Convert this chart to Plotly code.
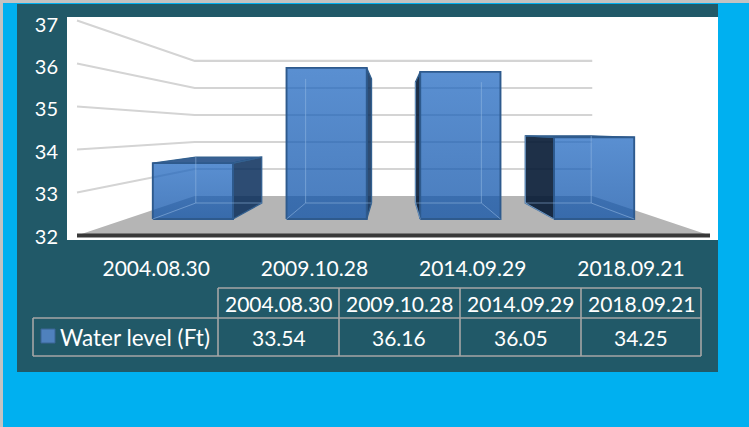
import plotly.graph_objects as go

# ---------------- data ----------------
categories = ["2004.08.30", "2009.10.28", "2014.09.29", "2018.09.21"]
water_level = [33.54, 36.16, 36.05, 34.25]
series_name = "Water level (Ft)"
y_ticks = [32, 33, 34, 35, 36, 37]

# ---------------- geometry / style ----------------
W, H = 749, 427
PX_PER_CAT = 158.25      # front-plane width of one category
X0_PX = 77               # front-plane left edge (px)
V0_PX = 235.5            # front-plane y of value 32 (px)
PX_PER_UNIT = 43.0
VMIN = y_ticks[0]
VMAX = y_ticks[-1]

# main axes: category units (x) and front-plane value units (y)
x_range = [-0.5 - X0_PX / PX_PER_CAT, (W - X0_PX) / PX_PER_CAT - 0.5]
y_range = [VMIN - (H - V0_PX) / PX_PER_UNIT, VMIN + V0_PX / PX_PER_UNIT]
# label axis (slightly different offset as in the reference)
LAB0_PX, LAB_UNIT = 236.5, 42.4
y2_range = [VMIN - (H - LAB0_PX) / LAB_UNIT, VMIN + LAB0_PX / LAB_UNIT]

# perspective: vanishing centre
CX = (len(categories) - 1) / 2.0
CV = VMIN + (V0_PX - 129.3) / PX_PER_UNIT
S_FRONT, S_BACK = 1.0, 0.628          # floor / walls depth scales
BAR_SF, BAR_SB = 0.845, 0.694          # bar front / back depth scales
HALF = 0.30                            # bar half width (category units)


def P(x, v, s):
    return CX + s * (x - CX), CV + s * (v - CV)


def poly(pts):
    xs = [p[0] for p in pts] + [pts[0][0]]
    ys = [p[1] for p in pts] + [pts[0][1]]
    return xs, ys


def px(x):
    return x / W


def py(y):
    return 1 - y / H


fig = go.Figure()

# invisible trace for label axis
fig.add_trace(go.Scatter(x=[0], y=[VMIN], yaxis="y2", mode="markers",
                         marker=dict(opacity=0), showlegend=False, hoverinfo="skip"))

xl, xr = -0.5, len(categories) - 0.5

# floor
fx, fy = poly([P(xl, VMIN, S_FRONT), P(xr, VMIN, S_FRONT), P(xr, VMIN, S_BACK), P(xl, VMIN, S_BACK)])
fig.add_trace(go.Scatter(x=fx, y=fy, mode="lines", fill="toself", fillcolor="#B5B5B5",
                         line=dict(width=0), showlegend=False, hoverinfo="skip"))

# gridlines on left wall and back wall
for v in y_ticks[1:]:
    pts = [P(xl, v, S_FRONT), P(xl, v, S_BACK), P(xr, v, S_BACK)]
    fig.add_trace(go.Scatter(x=[p[0] for p in pts], y=[p[1] for p in pts], mode="lines",
                             line=dict(color="#D4D4D4", width=2.2), showlegend=False, hoverinfo="skip"))

# floor front edge
ex, ey = zip(P(xl, VMIN, S_FRONT), P(xr, VMIN, S_FRONT))
fig.add_trace(go.Scatter(x=list(ex), y=list(ey), mode="lines",
                         line=dict(color="#383838", width=4), showlegend=False, hoverinfo="skip"))

EDGE = "#33608F"


def face(pts, color, lw=1.3, lc=EDGE, grad=None):
    xs, ys = poly(pts)
    kw = dict(x=xs, y=ys, mode="lines", fill="toself", line=dict(color=lc, width=lw),
              showlegend=False, hoverinfo="skip")
    if grad:
        kw["fillgradient"] = dict(type="vertical", colorscale=grad)
    else:
        kw["fillcolor"] = color
    fig.add_trace(go.Scatter(**kw))


def seg(a, b, color, w=1.0):
    fig.add_trace(go.Scatter(x=[a[0], b[0]], y=[a[1], b[1]], mode="lines",
                             line=dict(color=color, width=w), showlegend=False, hoverinfo="skip"))


for i, v in enumerate(water_level):
    x0, x1 = i - HALF, i + HALF
    # corners
    fbl, fbr, ftl, ftr = P(x0, VMIN, BAR_SF), P(x1, VMIN, BAR_SF), P(x0, v, BAR_SF), P(x1, v, BAR_SF)
    bbl, bbr, btl, btr = P(x0, VMIN, BAR_SB), P(x1, VMIN, BAR_SB), P(x0, v, BAR_SB), P(x1, v, BAR_SB)
    # visible side faces
    if x1 < CX:
        face([fbr, bbr, btr, ftr], "rgba(8,45,91,0.85)")
    if x0 > CX:
        face([fbl, bbl, btl, ftl], "rgba(6,26,52,0.9)")
    # top face if below eye level
    if v < CV:
        face([ftl, ftr, btr, btl], "rgba(22,68,128,0.85)")
    # front face (semi-transparent, gradient)
    face([fbl, fbr, ftr, ftl], None, lw=1.9, lc="#2E5A8D",
         grad=[[0, "rgba(14,82,168,0.75)"], [1, "rgba(35,106,194,0.75)"]])
    # hidden edges seen through the front face
    hc = "rgba(150,185,228,0.55)"
    seg(bbl, btl, hc)
    seg(bbl, bbr, hc)
    seg(fbl, bbl, hc)
    if x1 >= CX:
        seg(bbr, btr, hc)
        seg(fbr, bbr, hc)

# ---------------- backgrounds (shapes) ----------------
shapes = []


def rect(x0, y0, x1, y1, fill, line=None, lw=0, layer="below"):
    d = dict(type="rect", xref="paper", yref="paper", x0=px(x0), x1=px(x1), y0=py(y1), y1=py(y0),
             fillcolor=fill, layer=layer, line=dict(width=lw, color=line or fill))
    shapes.append(d)


rect(0, 0, W, 3, "#C3C3C3")
rect(0, 0, 3, H, "#C3C3C3")
rect(17, 4, 718, 372, "#215968")
rect(67, 17, 718, 240, "#FFFFFF")

# ---------------- data table ----------------
col_edges = [218, 339, 460, 581, 701]
TOP, MID, BOT = 288, 318, 356
TBL_LEFT = 33
GRID = "#A6A6A6"


def hline(x0, x1, y):
    shapes.append(dict(type="line", xref="paper", yref="paper", x0=px(x0), x1=px(x1), y0=py(y), y1=py(y),
                       line=dict(color=GRID, width=1.6), layer="above"))


def vline(x, y0, y1):
    shapes.append(dict(type="line", xref="paper", yref="paper", x0=px(x), x1=px(x), y0=py(y0), y1=py(y1),
                       line=dict(color=GRID, width=1.6), layer="above"))


hline(col_edges[0], col_edges[-1], TOP)
hline(TBL_LEFT, col_edges[-1], MID)
hline(TBL_LEFT, col_edges[-1], BOT)
vline(TBL_LEFT, MID, BOT)
for xe in col_edges:
    vline(xe, TOP, BOT)

# legend key
rect(41, 329, 55, 343, "#4F81BD", line="#3A6595", lw=1, layer="above")

FONT = "Lato"
annotations = []
for j, cat in enumerate(categories):
    cxm = (col_edges[j] + col_edges[j + 1]) / 2
    annotations.append(dict(x=px(cxm), y=py((TOP + MID) / 2), xref="paper", yref="paper", text=cat,
                            showarrow=False, xanchor="center", yanchor="middle",
                            font=dict(family=FONT, size=21, color="white")))
    annotations.append(dict(x=px(cxm), y=py((MID + BOT) / 2), xref="paper", yref="paper",
                            text=f"{water_level[j]:.2f}", showarrow=False, xanchor="center",
                            yanchor="middle", font=dict(family=FONT, size=21, color="white")))
annotations.append(dict(x=px(58), y=py((MID + BOT) / 2), xref="paper", yref="paper", text=series_name,
                        showarrow=False, xanchor="left", yanchor="middle",
                        font=dict(family=FONT, size=22.5, color="white")))

fig.update_layout(
    width=W, height=H, margin=dict(l=0, r=0, t=0, b=0), template="none",
    paper_bgcolor="#00B0F0", plot_bgcolor="rgba(0,0,0,0)", showlegend=False,
    shapes=shapes, annotations=annotations,
    xaxis=dict(range=x_range, showgrid=False, zeroline=False, showline=False, ticks="",
               tickvals=list(range(len(categories))), ticktext=categories,
               tickfont=dict(family=FONT, size=21, color="white"),
               anchor="free", position=py(254), automargin=False, fixedrange=True),
    yaxis=dict(range=y_range, visible=False, fixedrange=True, automargin=False),
    yaxis2=dict(range=y2_range, overlaying="y", anchor="free", position=px(58), side="left",
                showgrid=False, zeroline=False, showline=False, ticks="", tickvals=y_ticks,
                tickfont=dict(family=FONT, size=20, color="white"), automargin=False, fixedrange=True),
)

fig.write_html("out.html", config={"displayModeBar": False},
               post_script="document.body.style.margin='0';document.body.style.overflow='hidden';")
